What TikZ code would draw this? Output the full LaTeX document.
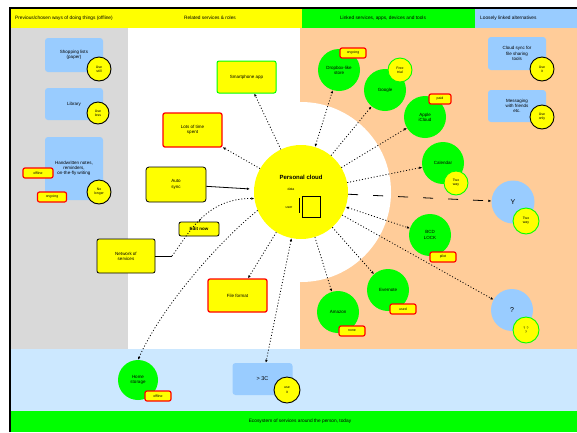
\documentclass[tikz,border=0pt]{standalone}
\usepackage{fontspec}
\setmainfont{Liberation Sans}
\usetikzlibrary{arrows.meta,shapes.geometric}
\definecolor{cyel}{HTML}{FFFF00}
\definecolor{cgrn}{HTML}{00FF00}
\definecolor{cblu}{HTML}{99CCFF}
\definecolor{cgray}{HTML}{D9D9D9}
\definecolor{corg}{HTML}{FFCC99}
\definecolor{cpale}{HTML}{CCE8FF}
\definecolor{cred}{HTML}{FF0000}
\tikzset{
 txt/.style={font=\fontsize{4.5}{5.2}\selectfont, align=center, inner sep=0pt},
 small/.style={txt, font=\fontsize{3.5}{4.2}\selectfont},
 bluebox/.style={txt, fill=cblu, rounded corners=3pt, minimum width=58pt},
 ybox/.style={txt, fill=cyel, draw=black, line width=0.8pt, rounded corners=2pt},
 redbox/.style={ybox, draw=cred, line width=1.3pt},
 grnbox/.style={ybox, draw=cgrn, line width=1pt},
 tagbox/.style={small, fill=cyel, draw=cred, line width=1.2pt, rounded corners=2pt, minimum height=10pt},
 gcirc/.style={txt, circle, fill=cgrn, minimum size=42pt},
 bcirc/.style={txt, circle, fill=cblu, minimum size=43pt},
 badge/.style={small, circle, fill=cyel, draw=black, line width=0.9pt, minimum size=24pt},
 gbadge/.style={badge, draw=cgrn},
 link/.style={dash pattern=on 1pt off 2pt, line width=0.8pt, -{Latex[length=3pt,width=2.6pt]}},
 blink/.style={link, {Latex[length=3pt,width=2.6pt]}-{Latex[length=3pt,width=2.6pt]}},
 hdr/.style={txt, font=\fontsize{4.8}{5.5}\selectfont},
}
\begin{document}
\begin{tikzpicture}[x=1pt,y=-1pt]
\useasboundingbox (0,0) rectangle (577,432);
\fill[white] (0,0) rectangle (577,432);
% regions
\fill[cgray] (10,28) rectangle (128,349);
\fill[corg] (300,28) rectangle (577,349);
\fill[white] (301,192) circle (90);
\fill[cyel] (10,8) rectangle (302,28);
\fill[cgrn] (302,8) rectangle (475,28);
\fill[cblu] (475,8) rectangle (577,28);
\fill[cpale] (10,349) rectangle (577,411);
\fill[cgrn] (10,411) rectangle (577,432);
\draw[line width=1.5pt] (10,432) -- (10,8) -- (577,8);
% header texts
\node[hdr, anchor=west] (h1) at (15,18) {Previous/chosen ways of doing things (offline)};
\node[hdr] (h2) at (210,18) {Related services \& roles};
\node[hdr] (h3) at (383,18) {Linked services, apps, devices and tools};
\node[hdr, anchor=west] (h4) at (480,18) {Loosely linked alternatives};
\node[hdr] (h5) at (300,421) {Ecosystem of services around the person, today};
% left column
\node[bluebox, minimum height=34pt] (L1) at (74,55) {Shopping lists\\(paper)};
\node[bluebox, minimum height=32pt] (L2) at (74,104) {Library};
\node[bluebox, minimum height=63pt] (L3) at (74,168.5) {Handwritten notes,\\reminders,\\on-the-fly writing};
\node[badge] (B1) at (99,69) {Use\\still};
\node[badge, minimum size=22pt] (B2) at (98,113) {Use\\less};
\node[badge] (B3) at (99,192) {No\\longer};
\node[tagbox, minimum width=30pt] (T3a) at (38,173) {offline};
\node[tagbox, minimum width=29pt] (T3b) at (52,197) {ongoing};
% middle
\node[grnbox, minimum width=59pt, minimum height=32pt] (M1) at (246.5,77) {Smartphone app};
\node[redbox, minimum width=59pt, minimum height=34pt] (M2) at (192.5,130) {Lots of time\\spent};
\node[ybox, rounded corners=3pt, minimum width=60pt, minimum height=35pt] (M3) at (176,184.5) {Auto\\sync};
\node[ybox, minimum width=58pt, minimum height=34pt] (M4) at (126,256) {Network of\\services};
\node[redbox, minimum width=59pt, minimum height=33pt] (M5) at (237.5,295.5) {File format};
\node[ybox, minimum width=40pt, minimum height=14pt] (Ed) at (199,229) {\textbf{Edit now}};
% centre
\node[circle, fill=cyel, minimum size=94pt, inner sep=0pt] (C) at (301,192) {};
\node[txt, font=\fontsize{6}{7}\bfseries] (Ct) at (301,177) {Personal cloud};
\node[cylinder, shape border rotate=90, draw, line width=0.5pt, aspect=0.25, minimum width=18pt, minimum height=21pt, inner sep=0pt] (db) at (311,207) {};
\node[small] (Cs1) at (291,189) {data};
\node[small] (Cs2) at (289,208) {user};
\coordinate (dbl1) at (299,198);
\coordinate (dbl2) at (299,213);
\draw[line width=0.5pt] (dbl1) -- (dbl2);
% right green circles
\node[gcirc] (Ga) at (339,70) {Dropbox-like\\store};
\node[tagbox, minimum width=26pt] (Ta) at (353,53) {ongoing};
\node[gcirc] (Gb) at (385,90) {Google};
\node[gbadge] (Yb) at (400,70) {Free\\trial};
\node[gcirc] (Gc) at (425,117) {Apple\\iCloud};
\node[tagbox, minimum width=22pt] (Tc) at (440,99) {paid};
\node[gcirc] (Gd) at (443,163) {Calendar};
\node[gbadge] (Yd) at (456,183) {Two\\way};
\node[gcirc] (Ge) at (430,235) {BCD\\LOCK};
\node[tagbox, minimum width=26pt] (Te) at (443,257) {pilot};
\node[bcirc] (Bf) at (513,202) {\fontsize{7}{8}\selectfont Y};
\node[gbadge, minimum size=26pt] (Yf) at (526,221) {Two\\way};
\node[bcirc, minimum size=42pt] (Bg) at (512,310) {\fontsize{7}{8}\selectfont ?};
\node[gbadge, minimum size=26pt] (Yg) at (526,330) {? ?\\?};
\node[gcirc] (Gh) at (388,290) {Evernote};
\node[tagbox, minimum width=26pt] (Th) at (403,309) {used};
\node[gcirc] (Gi) at (338,312) {Amazon};
\node[tagbox, minimum width=26pt] (Ti) at (352,331) {none};
% right blue boxes
\node[bluebox, minimum height=33pt] (R1) at (517,53.5) {Cloud sync for\\file sharing\\tools};
\node[badge] (RB1) at (542,69) {Use\\it};
\node[bluebox, minimum height=32pt] (R2) at (517,106) {Messaging\\with friends\\etc.};
\node[badge] (RB2) at (542,117) {Use\\only};
% bottom band
\node[gcirc, minimum size=40pt] (Gj) at (138,380) {Home\\storage};
\node[tagbox, minimum width=26pt] (Tj) at (158,396) {offline};
\node[bluebox, minimum width=60pt, minimum height=32pt] (Bk) at (262.5,379) {\fontsize{5.5}{6}\selectfont > 3C};
\node[badge, minimum size=26pt] (BKb) at (287,390) {use\\it};
% connectors
\draw[link] (C) -- (M1);
\draw[link] (C) -- (M2);
\draw[line width=0.8pt, -{Latex[length=3pt,width=2.6pt]}, shorten >=4pt] (M3) -- (C);
\coordinate (nw) at (172,256);
\coordinate (edc) at (200.6,219);
\draw[line width=0.8pt] (M4.east) -- (nw);
\draw[link] (nw) .. controls (188,235) and (205,198) .. (C.188);
\draw[line width=0.8pt] (Ed.north) -- (edc);
\draw[link] (C) -- (M5);
\draw[link] (C.203) .. controls (215,245) and (160,310) .. (Gj.north);
\draw[blink] (C) -- (Bk);
\draw[blink] (C) -- (Ga);
\draw[link] (C) -- (Gb);
\draw[link] (C) -- (Gc);
\draw[link] (C) -- (Gd);
\draw[line width=0.8pt, dash pattern=on 10pt off 15pt, -{Latex[length=3pt,width=2.6pt]}] (C) -- (Bf);
\draw[blink] (C) -- (Ge);
\draw[link] (C) -- (Bg);
\draw[link] (C) -- (Gh);
\draw[link] (C) -- (Gi);
\end{tikzpicture}
\end{document}
